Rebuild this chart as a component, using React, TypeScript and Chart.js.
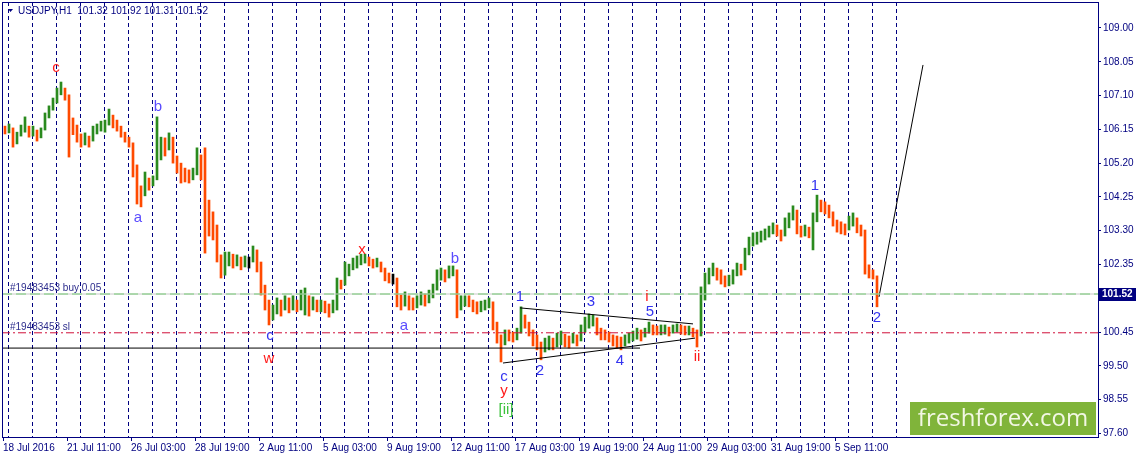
import React, { useEffect, useRef } from 'react';
import { Chart, registerables } from 'chart.js';

Chart.register(...registerables);

const NAVY = '#000080';
const UP = '#2a8a1e';
const DOWN = '#ff4a00';
const RED = '#ff1a1a';
const BLUE = '#3434f0';
const VIOLET = '#5a4cff';
const GREEN = '#3cc23c';
const FONT = "'Liberation Sans', Arial, sans-serif";

const symbol = 'USDJPY,H1';
const lastQuote = [101.32, 101.92, 101.31, 101.52]; // O H L C of the running bar

const dateLabels = [
  '18 Jul 2016', '21 Jul 11:00', '26 Jul 03:00', '28 Jul 19:00', '2 Aug 11:00',
  '5 Aug 03:00', '9 Aug 19:00', '12 Aug 11:00', '17 Aug 03:00', '19 Aug 19:00',
  '24 Aug 11:00', '29 Aug 03:00', '31 Aug 19:00', '5 Sep 11:00',
];
// hour index of each date label (1 bar = 1 hour)
const dateTickHours = [0, 64, 128, 192, 256, 320, 384, 448, 512, 576, 640, 704, 768, 832];
const priceTicks = [
  97.6, 98.55, 99.5, 100.45, 101.4, 102.35, 103.3, 104.25, 105.2, 106.15, 107.1, 108.05, 109.0,
];

// 4-hour bars
const firstOpen = 106.2;
const barClose = [
  106.13, 106.19, 105.85, 105.96, 106.13, 106.24, 106.05, 106.13, 105.91, 106.13,
  106.47, 106.69, 106.89, 107.12, 107.31, 107.09, 106.47, 106.27, 105.91, 105.85,
  105.91, 105.82, 106.07, 106.19, 106.22, 106.27, 106.55, 106.35, 106.24, 106.05,
  105.91, 105.77, 105.15, 104.44, 104.28, 104.73, 104.56, 104.73, 105.57, 105.71,
  105.63, 105.85, 105.34, 105.15, 104.95, 104.84, 104.78, 104.87, 105.43, 105.15,
  104.16, 103.66, 103.46, 102.62, 102.14, 102.42, 102.53, 102.42, 102.48, 102.36,
  102.42, 102.42, 102.70, 102.42, 101.77, 101.35, 100.85, 101.02, 101.18, 101.07,
  101.27, 101.18, 101.30, 101.18, 101.35, 101.47, 101.18, 101.27, 101.18, 101.21,
  101.16, 101.07, 101.21, 101.80, 101.77, 102.14, 102.20, 102.36, 102.42, 102.50,
  102.53, 102.42, 102.36, 102.42, 102.25, 102.05, 101.97, 101.97, 101.35, 101.30,
  101.41, 101.27, 101.24, 101.32, 101.41, 101.35, 101.47, 101.63, 102.00, 102.14,
  102.03, 102.14, 102.20, 101.13, 101.30, 101.35, 101.30, 101.18, 101.13, 101.18,
  101.24, 101.30, 100.73, 100.37, 100.09, 100.37, 100.34, 100.28, 100.42, 100.93,
  100.73, 100.51, 100.23, 100.17, 99.89, 100.09, 100.17, 100.09, 100.23, 100.28,
  100.23, 100.17, 100.28, 100.23, 100.45, 100.70, 100.79, 100.85, 100.51, 100.39,
  100.37, 100.28, 100.23, 100.17, 100.12, 100.23, 100.28, 100.34, 100.42, 100.34,
  100.45, 100.59, 100.51, 100.48, 100.51, 100.54, 100.48, 100.54, 100.59, 100.54,
  100.48, 100.51, 100.42, 100.34, 101.35, 101.86, 102.03, 102.20, 102.08, 101.97,
  101.86, 101.91, 102.03, 102.25, 102.20, 102.62, 102.95, 103.04, 103.10, 103.15,
  103.21, 103.26, 103.38, 103.32, 103.15, 103.46, 103.60, 103.83, 103.38, 103.26,
  103.32, 103.26, 103.60, 104.16, 104.02, 103.94, 103.83, 103.60, 103.43, 103.38,
  103.32, 103.55, 103.66, 103.38, 103.32, 102.34, 102.14, 102.03, 101.52,
];
const barHigh = [
  106.24, 106.30, 106.13, 106.07, 106.27, 106.50, 106.22, 106.24, 106.05, 106.19,
  106.61, 106.81, 107.03, 107.31, 107.48, 107.31, 107.12, 106.47, 106.19, 106.02,
  106.05, 105.96, 106.24, 106.30, 106.38, 106.41, 106.72, 106.52, 106.41, 106.22,
  106.07, 105.93, 105.77, 104.81, 104.56, 104.95, 104.78, 104.84, 106.50, 105.93,
  105.91, 106.05, 105.93, 105.40, 105.20, 105.06, 105.01, 105.06, 105.63, 105.43,
  105.63, 104.02, 103.83, 103.38, 102.62, 102.70, 102.70, 102.64, 102.62, 102.56,
  102.59, 102.56, 102.87, 102.76, 102.25, 101.63, 101.21, 101.21, 101.41, 101.35,
  101.47, 101.41, 101.47, 101.35, 101.63, 101.69, 101.41, 101.44, 101.35, 101.35,
  101.32, 101.24, 101.35, 101.97, 101.91, 102.42, 102.36, 102.53, 102.59, 102.64,
  102.64, 102.56, 102.50, 102.53, 102.42, 102.25, 102.11, 102.08, 101.91, 101.49,
  101.58, 101.47, 101.41, 101.47, 101.58, 101.52, 101.63, 101.80, 102.20, 102.25,
  102.20, 102.31, 102.31, 102.14, 101.47, 101.47, 101.47, 101.35, 101.30, 101.32,
  101.35, 101.41, 101.21, 100.65, 100.37, 100.51, 100.51, 100.45, 100.56, 101.16,
  100.90, 100.70, 100.51, 100.37, 100.14, 100.28, 100.34, 100.28, 100.42, 100.48,
  100.39, 100.34, 100.42, 100.37, 100.65, 100.87, 100.96, 100.93, 100.73, 100.56,
  100.51, 100.45, 100.37, 100.34, 100.31, 100.37, 100.42, 100.48, 100.56, 100.51,
  100.56, 100.73, 100.65, 100.62, 100.65, 100.65, 100.59, 100.65, 100.68, 100.65,
  100.62, 100.62, 100.56, 100.51, 101.72, 102.11, 102.25, 102.39, 102.25, 102.20,
  102.03, 102.05, 102.20, 102.39, 102.36, 102.81, 103.12, 103.24, 103.26, 103.29,
  103.35, 103.43, 103.52, 103.46, 103.32, 103.66, 103.80, 104.00, 103.88, 103.43,
  103.46, 103.40, 103.80, 104.30, 104.16, 104.11, 104.02, 103.83, 103.60, 103.55,
  103.49, 103.71, 103.80, 103.60, 103.46, 103.26, 102.31, 102.20, 101.97,
];
const barLow = [
  106.02, 106.05, 105.65, 105.74, 105.96, 106.07, 105.93, 105.96, 105.82, 105.91,
  106.19, 106.52, 106.69, 106.89, 107.12, 106.97, 105.37, 106.00, 105.79, 105.65,
  105.71, 105.65, 105.88, 106.02, 106.10, 106.07, 106.35, 106.19, 106.10, 105.93,
  105.79, 105.65, 104.81, 104.05, 103.97, 104.33, 104.44, 104.59, 105.01, 105.29,
  105.40, 105.57, 105.20, 104.92, 104.64, 104.67, 104.64, 104.73, 105.23, 104.73,
  102.67, 103.15, 103.04, 102.42, 101.97, 102.05, 102.31, 102.25, 102.31, 102.20,
  102.28, 102.25, 102.48, 102.14, 101.49, 101.07, 100.65, 100.79, 100.96, 100.90,
  101.07, 100.99, 101.07, 101.02, 101.07, 100.93, 100.90, 101.07, 101.02, 101.02,
  100.99, 100.87, 100.99, 101.07, 101.66, 101.89, 102.03, 102.20, 102.25, 102.34,
  102.39, 102.31, 102.25, 102.28, 102.14, 101.89, 101.83, 101.80, 101.16, 101.07,
  101.18, 101.07, 101.07, 101.13, 101.21, 101.18, 101.27, 101.41, 101.77, 101.91,
  101.86, 101.97, 102.03, 100.85, 101.07, 101.18, 101.16, 101.02, 100.96, 101.02,
  101.07, 101.13, 100.51, 100.14, 99.61, 100.09, 100.20, 100.17, 100.23, 100.45,
  100.56, 100.34, 100.06, 99.95, 99.67, 99.89, 99.95, 99.95, 100.03, 100.09,
  100.03, 100.00, 100.14, 100.06, 100.20, 100.45, 100.56, 100.62, 100.37, 100.23,
  100.23, 100.17, 100.06, 100.00, 99.95, 100.06, 100.14, 100.20, 100.25, 100.20,
  100.31, 100.42, 100.37, 100.37, 100.37, 100.39, 100.34, 100.42, 100.45, 100.39,
  100.37, 100.37, 100.31, 100.03, 100.34, 101.58, 101.80, 102.03, 101.91, 101.80,
  101.72, 101.75, 101.80, 102.08, 102.05, 102.25, 102.70, 102.87, 102.92, 102.98,
  103.04, 103.12, 103.21, 103.15, 103.01, 103.24, 103.38, 103.60, 103.21, 103.12,
  103.15, 103.10, 102.76, 103.55, 103.83, 103.77, 103.66, 103.43, 103.26, 103.21,
  103.18, 103.38, 103.43, 103.24, 103.15, 102.08, 101.97, 101.94, 101.16,
];

// order lines
const orderId = '#19483453';
const bidPrice = 101.52;
const buyPrice = 101.52;
const stopPrice = 100.43;

// drawn analysis lines: [hour, price]
const supportLine = [[-1, 100.0], [637, 100.0]];
const triangleTop = [[517, 101.13], [690, 100.68]];
const triangleBottom = [[500, 99.58], [692, 100.28]];
const targetLine = [[876, 101.44], [920, 107.96]];

// wave marks
const waveText = ['c', 'b', 'a', 'c', 'w', 'x', 'a', 'b', '1', '3', 'i', '5', 'ii', '4', '2', 'c', 'y', '[ii]', '1', '2'];
const waveHour = [53, 155, 135, 267, 266, 359, 401, 452, 517, 588, 644, 647, 694, 617, 537, 501, 501, 503, 812, 874];
const wavePrice = [107.87, 106.78, 103.66, 100.34, 99.69, 102.76, 100.62, 102.5, 101.44, 101.3, 101.44, 101.02, 99.75, 99.64, 99.36, 99.19, 98.8, 98.26, 104.56, 100.85];
const waveTone = [RED, VIOLET, VIOLET, BLUE, RED, RED, VIOLET, VIOLET, BLUE, BLUE, RED, BLUE, RED, BLUE, BLUE, BLUE, RED, GREEN, BLUE, BLUE];

const daySeparators = Array.from({ length: 38 }, (_, i) => 5 + 24 * i);

const overlay = {
  id: 'mtOverlay',
  beforeDatasetsDraw(chart: any) {
    const { ctx, chartArea: a, scales } = chart;
    ctx.save();
    ctx.strokeStyle = NAVY;
    ctx.lineWidth = 1;
    ctx.setLineDash([4, 3]);
    daySeparators.forEach((h) => {
      const px = Math.round(scales.x.getPixelForValue(h)) + 0.5;
      ctx.beginPath();
      ctx.moveTo(px, a.top);
      ctx.lineTo(px, a.bottom);
      ctx.stroke();
    });
    ctx.restore();
  },
  afterDraw(chart: any) {
    const { ctx, chartArea: a, scales } = chart;
    const { x, y } = scales;
    ctx.save();

    // frame
    ctx.strokeStyle = NAVY;
    ctx.lineWidth = 1;
    ctx.strokeRect(Math.round(a.left) + 0.5, Math.round(a.top) + 0.5, Math.round(a.right - a.left), Math.round(a.bottom - a.top));

    // title
    ctx.fillStyle = NAVY;
    ctx.beginPath();
    ctx.moveTo(a.left + 6, a.top + 7);
    ctx.lineTo(a.left + 11, a.top + 7);
    ctx.lineTo(a.left + 8.5, a.top + 10);
    ctx.closePath();
    ctx.fill();
    ctx.font = `10px ${FONT}`;
    ctx.textBaseline = 'middle';
    ctx.textAlign = 'left';
    ctx.fillText(`${symbol}  ${lastQuote.map((v) => v.toFixed(2)).join(' ')}`, a.left + 16, a.top + 9);

    // order labels
    ctx.fillStyle = '#2c2c8c';
    ctx.textBaseline = 'bottom';
    ctx.fillText(`${orderId} buy 0.05`, a.left + 8, y.getPixelForValue(buyPrice) - 1);
    ctx.fillText(`${orderId} sl`, a.left + 8, y.getPixelForValue(stopPrice) - 1);

    // wave labels
    ctx.textAlign = 'center';
    ctx.textBaseline = 'middle';
    ctx.font = `15px ${FONT}`;
    waveText.forEach((t, i) => {
      ctx.fillStyle = waveTone[i];
      ctx.fillText(t, x.getPixelForValue(waveHour[i]), y.getPixelForValue(wavePrice[i]));
    });

    // bid price box
    const by = Math.round(y.getPixelForValue(bidPrice));
    ctx.fillStyle = NAVY;
    ctx.fillRect(a.right + 1, by - 6, 37, 13);
    ctx.fillStyle = '#ffffff';
    ctx.font = `bold 10px ${FONT}`;
    ctx.textAlign = 'left';
    ctx.fillText(bidPrice.toFixed(2), a.right + 4, by + 0.5);

    // watermark
    const lw = 186;
    const lh = 33;
    const lx = a.right - 2 - lw;
    const ly = a.bottom - 2 - lh;
    ctx.fillStyle = '#80b43a';
    ctx.fillRect(lx, ly, lw, lh);
    ctx.fillStyle = '#f2f7e4';
    ctx.font = `24px 'Open Sans', ${FONT}`;
    ctx.textAlign = 'center';
    ctx.textBaseline = 'middle';
    ctx.fillText('freshforex.com', lx + lw / 2, ly + lh / 2 + 1);

    ctx.restore();
  },
};

const toPoints = (pts: number[][]) => pts.map(([h, p]) => ({ x: h, y: p }));

const App = () => {
  const chartRef = useRef<HTMLCanvasElement | null>(null);
  const chartInstance = useRef<Chart | null>(null);

  useEffect(() => {
    if (!chartRef.current) return;
    if (chartInstance.current) chartInstance.current.destroy();

    const opens = barClose.map((_, i) => (i === 0 ? firstOpen : barClose[i - 1]));
    const bars = barClose.map((c, i) => ({
      x: 2 + 4 * i,
      y: [Math.min(barLow[i], opens[i], c), Math.max(barHigh[i], opens[i], c)],
    }));
    const colors = barClose.map((c, i) => (c > opens[i] ? UP : c < opens[i] ? DOWN : '#000000'));

    const flat = (p: number) => [[-1, p], [1095, p]];
    const line = (pts: number[][], color: string, dash: number[] = []) => ({
      type: 'line' as const,
      data: toPoints(pts),
      borderColor: color,
      borderWidth: 1,
      borderDash: dash,
      pointRadius: 0,
      order: 0,
    });

    const tickFont = { family: FONT, size: 10 };

    chartInstance.current = new Chart(chartRef.current, {
      type: 'bar',
      data: {
        datasets: [
          line(flat(bidPrice), '#c8c8c8'),
          line(flat(buyPrice), '#22cc22', [10, 4]),
          line(flat(stopPrice), '#d0103a', [8, 3, 2, 3]),
          line(supportLine, '#000000'),
          line(triangleTop, '#000000'),
          line(triangleBottom, '#000000'),
          line(targetLine, '#000000'),
          {
            type: 'bar' as const,
            data: bars as any,
            backgroundColor: colors,
            borderWidth: 0,
            barThickness: 2,
            grouped: false,
            order: 1,
          },
        ],
      },
      options: {
        responsive: false,
        animation: false,
        layout: { padding: { left: 2, top: 2, right: 0, bottom: 0 } },
        plugins: { legend: { display: false }, tooltip: { enabled: false } },
        scales: {
          x: {
            type: 'linear',
            min: -1,
            max: 1095,
            offset: false,
            afterBuildTicks: (s: any) => {
              s.ticks = dateTickHours.map((v) => ({ value: v }));
            },
            afterFit: (s: any) => {
              s.height = 21;
              s.paddingLeft = 0;
              s.paddingRight = 0;
            },
            ticks: {
              autoSkip: false,
              maxRotation: 0,
              align: 'start',
              padding: 1,
              color: NAVY,
              font: tickFont,
              callback: (_v: any, i: number) => dateLabels[i],
            },
            grid: { display: true, offset: false, drawOnChartArea: false, drawTicks: true, tickLength: 4, color: NAVY },
            border: { display: true, color: NAVY },
          },
          y: {
            type: 'linear',
            position: 'right',
            min: 97.5,
            max: 109.73,
            afterBuildTicks: (s: any) => {
              s.ticks = priceTicks.map((v) => ({ value: v }));
            },
            afterFit: (s: any) => {
              s.width = 40;
              s.paddingTop = 0;
              s.paddingBottom = 0;
            },
            ticks: {
              padding: 2,
              color: NAVY,
              font: tickFont,
              callback: (v: any) => Number(v).toFixed(2),
            },
            grid: { display: true, drawOnChartArea: false, drawTicks: true, tickLength: 3, color: NAVY },
            border: { display: true, color: NAVY },
          },
        },
      },
      plugins: [overlay],
    } as any);

    return () => {
      if (chartInstance.current) {
        chartInstance.current.destroy();
        chartInstance.current = null;
      }
    };
  }, []);

  return (
    <div style={{ position: 'absolute', left: 0, top: 0, width: 1138, height: 458, background: '#ffffff' }}>
      <canvas ref={chartRef} width={1138} height={458} style={{ display: 'block' }} />
    </div>
  );
};

export default App;
